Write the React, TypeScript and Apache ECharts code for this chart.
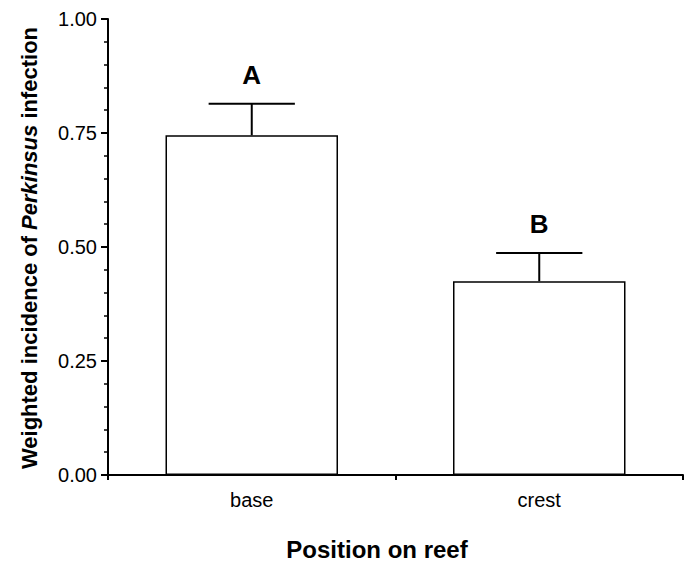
import React, { useEffect, useRef } from "react";
import * as echarts from "echarts";

const categories = ["base", "crest"];
const means = [0.745, 0.425];
const upperErr = [0.814, 0.487];
const letters = ["A", "B"];
const yTicks = [0, 0.25, 0.5, 0.75, 1.0];

export default function App() {
  const ref = useRef<HTMLDivElement>(null);
  useEffect(() => {
    if (!ref.current) return;
    const chart = echarts.init(ref.current, null, { renderer: "svg" });
    const font = "'Liberation Sans', Arial, Helvetica, sans-serif";
    chart.setOption({
      animation: false,
      backgroundColor: "#fff",
      textStyle: { fontFamily: font, color: "#000" },
      grid: { left: 108, right: 4, top: 19, bottom: 88, containLabel: false },
      xAxis: {
        type: "category",
        data: categories,
        boundaryGap: true,
        axisLine: { lineStyle: { color: "#000", width: 2 } },
        axisTick: { show: true, length: 5, lineStyle: { color: "#000", width: 2 } },
        axisLabel: { color: "#000", fontSize: 20, margin: 15, fontFamily: font },
        splitLine: { show: false },
      },
      yAxis: {
        type: "value",
        min: yTicks[0],
        max: yTicks[yTicks.length - 1],
        interval: 0.25,
        axisLine: { show: true, lineStyle: { color: "#000", width: 2 } },
        axisTick: { show: true, length: 7, lineStyle: { color: "#000", width: 2 } },
        minorTick: { show: true, splitNumber: 5, length: 4, lineStyle: { color: "#000", width: 1.5 } },
        axisLabel: {
          color: "#000",
          fontSize: 20,
          margin: 11,
          fontFamily: font,
          formatter: (v: number) => v.toFixed(2),
        },
        splitLine: { show: false },
        minorSplitLine: { show: false },
      },
      graphic: [
        {
          type: "text",
          x: 29,
          y: 248,
          rotation: Math.PI / 2,
          style: {
            text: "Weighted incidence of {i|Perkinsus} infection",
            fontSize: 22,
            fontWeight: "bold",
            fontFamily: font,
            fill: "#000",
            align: "center",
            verticalAlign: "middle",
            rich: {
              i: { fontStyle: "italic", fontWeight: "bold", fontSize: 22, fontFamily: font, fill: "#000" },
            },
          },
        },
        {
          type: "text",
          x: 377,
          y: 549,
          style: {
            text: "Position on reef",
            fontSize: 24,
            fontWeight: "bold",
            fontFamily: font,
            fill: "#000",
            align: "center",
            verticalAlign: "middle",
          },
        },
      ],
      series: [
        {
          type: "bar",
          data: means,
          barWidth: "60%",
          itemStyle: { color: "#fff", borderColor: "#000", borderWidth: 1.5 },
          z: 2,
        },
        {
          type: "custom",
          z: 3,
          data: categories.map((_, i) => [i, means[i], upperErr[i]]),
          renderItem: (params: any, api: any) => {
            const xi = api.value(0);
            const lo = api.coord([xi, api.value(1)]);
            const hi = api.coord([xi, api.value(2)]);
            const half = api.size([1, 0])[0] * 0.15;
            const ls = { stroke: "#000", lineWidth: 2 };
            return {
              type: "group",
              children: [
                { type: "line", shape: { x1: lo[0], y1: lo[1], x2: hi[0], y2: hi[1] }, style: ls },
                { type: "line", shape: { x1: hi[0] - half, y1: hi[1], x2: hi[0] + half, y2: hi[1] }, style: ls },
                {
                  type: "text",
                  x: hi[0],
                  y: hi[1] - 16,
                  style: {
                    text: letters[params.dataIndex],
                    fontSize: 26,
                    fontWeight: "bold",
                    fontFamily: font,
                    fill: "#000",
                    align: "center",
                    verticalAlign: "bottom",
                  },
                },
              ],
            };
          },
        },
      ],
    });
    return () => chart.dispose();
  }, []);
  return <div ref={ref} style={{ width: 687, height: 563, position: "absolute", left: 0, top: 0 }} />;
}
